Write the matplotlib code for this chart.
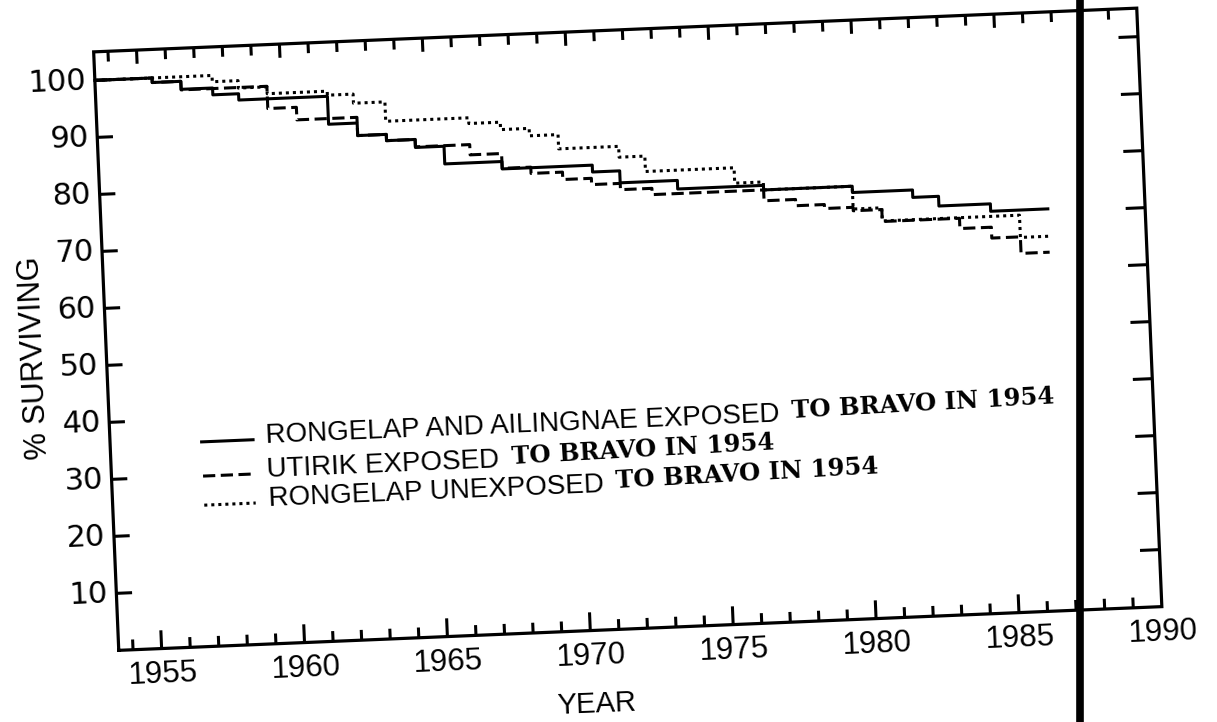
import matplotlib
matplotlib.use('Agg')
import matplotlib.pyplot as plt
import matplotlib.transforms as mtransforms
from matplotlib.font_manager import FontProperties
from matplotlib.lines import Line2D

# survival curves, step values hold from each year to the next
yrs_exp = [1953.5, 1955.5, 1956.5, 1957.6, 1958.5, 1961.6, 1962.6, 1963.6, 1964.6, 1965.6,
           1967.6, 1970.75, 1971.7, 1973.7, 1976.7, 1979.8, 1981.9, 1982.8, 1984.6, 1986.6]
pct_exp = [100, 99.2, 97.8, 96.6, 95.5, 90.6, 88.4, 87.3, 85.9, 82.8,
           81.5, 80.3, 78.2, 76.7, 75.9, 74.8, 73.5, 71.8, 70.5, 70.5]

yrs_uti = [1953.5, 1955.5, 1956.5, 1959.5, 1960.5, 1962.6, 1963.6, 1964.6, 1966.5, 1967.6,
           1968.6, 1969.7, 1970.7, 1971.7, 1972.8, 1976.7, 1977.8, 1978.8, 1979.8, 1980.8,
           1983.5, 1984.6, 1985.6, 1986.6]
pct_uti = [100, 99.2, 97.7, 93.8, 91.6, 88.4, 87.3, 86.0, 84.2, 81.6,
           80.5, 79.2, 78.1, 77.0, 75.9, 74.0, 72.9, 72.2, 71.6, 69.5,
           67.7, 65.8, 62.9, 62.9]

yrs_une = [1953.5, 1957.6, 1958.5, 1959.5, 1961.6, 1962.5, 1963.6, 1966.5, 1967.6, 1968.6,
           1969.6, 1971.7, 1972.6, 1975.7, 1976.7, 1979.8, 1980.8, 1985.6, 1986.6]
pct_une = [100, 98.9, 97.6, 96.4, 95.7, 94.1, 90.7, 89.7, 88.4, 87.1,
           84.6, 82.7, 80.0, 77.3, 75.9, 71.9, 69.6, 65.7, 65.7]

x_major = [1955, 1960, 1965, 1970, 1975, 1980, 1985]
x_minor = [y for y in range(1954, 1990) if y % 5 != 0]
x_labels = [1955, 1960, 1965, 1970, 1975, 1980, 1985, 1990]
y_ticks = [10, 20, 30, 40, 50, 60, 70, 80, 90, 100]

leg_text = ['RONGELAP AND AILINGNAE EXPOSED', 'UTIRIK EXPOSED', 'RONGELAP UNEXPOSED']
leg_tail = 'TO BRAVO IN 1954'
leg_rows = [35.9, 29.9, 24.8]
styles = ['-', (0, (4, 1.8)), (0, (1, 1.3))]

W, H = 1217, 722
fig = plt.figure(figsize=(W / 100, H / 100), dpi=100)
L, B, AW, AH = 105.75, 93.25, 1044, 599
ax = fig.add_axes([L / W, B / H, AW / W, AH / H])
x0, x1, y0, y1 = 1953.5, 1990, 0, 105
ax.set_xlim(x0, x1)
ax.set_ylim(y0, y1)
ax.axis('off')

# the scanned page is tilted a bit
ang = 2.4
tr = ax.transData + mtransforms.Affine2D().rotate_deg_around(L + AW / 2, B + AH / 2, ang)
kw = dict(transform=tr, clip_on=False, color='black')

ax.plot([x0, x1, x1, x0, x0], [y0, y0, y1, y1, y0], lw=2.3, solid_joinstyle='miter', **kw)
ax.vlines(x_minor, y0, 1.8, lw=2.2, **kw)
ax.vlines(x_major, y0, 3.2, lw=2.2, **kw)
ax.vlines(x_minor, y1, y1 - 1.8, lw=2.2, **kw)
ax.vlines(x_major, y1, y1 - 2.4, lw=2.2, **kw)
ax.hlines(y_ticks, x0, x0 + 0.55, lw=2.2, **kw)
ax.hlines(y_ticks, x1, x1 - 0.68, lw=2.2, **kw)

sans = ['Liberation Sans', 'DejaVu Sans']
for yr in x_labels:
    ax.text(yr, -1.9, str(yr), ha='center', va='top', rotation=ang, rotation_mode='anchor',
            fontsize=22.5, family=sans, transform=tr)
for v in y_ticks:
    ax.text(x0 - 0.3, v, str(v), ha='right', va='center', rotation=ang, rotation_mode='anchor',
            fontsize=22, family='DejaVu Sans', transform=tr)
ax.text(1951.0, 51.8, '% SURVIVING', ha='center', va='center', rotation=90 + ang,
        rotation_mode='anchor', fontsize=22, family=sans, transform=tr)
ax.text(1970.1, -13.0, 'YEAR', ha='center', va='center', rotation=ang,
        rotation_mode='anchor', fontsize=21, family=sans, transform=tr)

for yrs, pct, ls in zip([yrs_exp, yrs_uti, yrs_une], [pct_exp, pct_uti, pct_une], styles):
    ax.step(yrs, pct, where='post', lw=2.2, linestyle=ls, **kw)

# legend drawn by hand, as in the original
renderer = fig.canvas.get_renderer()
px_per_year = AW / (x1 - x0)
fp_main = FontProperties(family=sans, size=20)
for txt, row, ls in zip(leg_text, leg_rows, styles):
    ax.plot([1956.7, 1958.5], [row, row], lw=2.2, linestyle=ls, **kw)
    ax.text(1958.95, row - 0.6, txt, ha='left', va='baseline', rotation=ang,
            rotation_mode='anchor', fontproperties=fp_main, transform=tr)
    w = renderer.get_text_width_height_descent(txt, fp_main, ismath=False)[0]
    ax.text(1958.95 + (w + 12) / px_per_year, row - 0.1, leg_tail, ha='left', va='baseline',
            rotation=ang + 0.8, rotation_mode='anchor', fontsize=17.5, family='DejaVu Serif',
            fontweight='bold', transform=tr)

# heavy vertical mark from the scan
fig.add_artist(Line2D([1080 / W, 1080 / W], [0, 1], transform=fig.transFigure,
                      color='black', lw=5.5))

fig.savefig('out.png', dpi=100)
plt.close(fig)
